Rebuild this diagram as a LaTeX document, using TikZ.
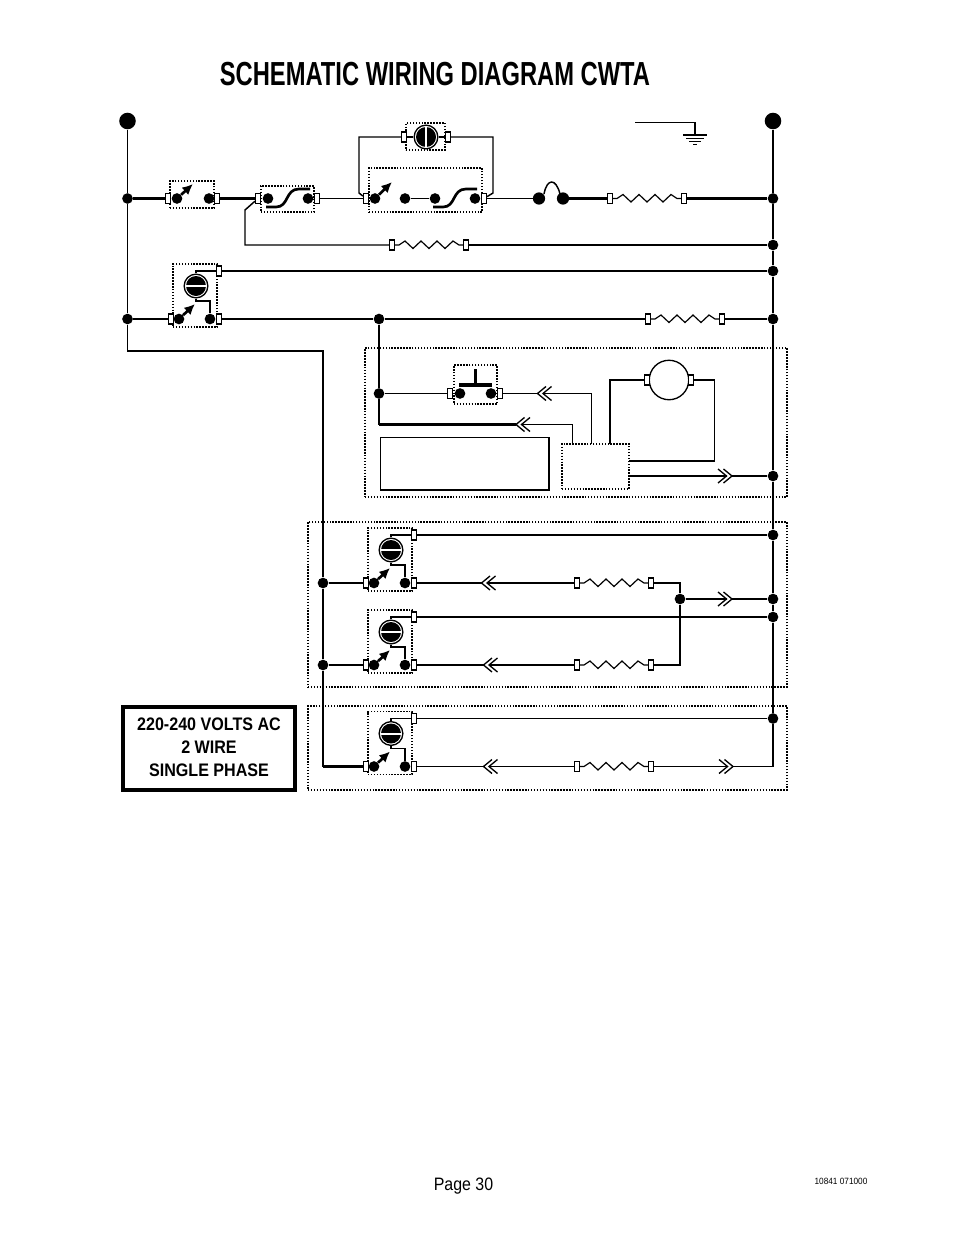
\documentclass[tikz,border=0pt]{standalone}
\usepackage{fontspec}
\setmainfont{Liberation Sans}
\newfontfamily\titlefnt[FakeStretch=0.712]{Liberation Sans}
\newfontfamily\legendfnt[FakeStretch=0.888]{Liberation Sans}
\newfontfamily\pagefnt[FakeStretch=0.885]{Liberation Sans}
\newfontfamily\codefnt[FakeStretch=0.91]{Liberation Sans}
\usetikzlibrary{arrows.meta,fit}
\tikzset{
  wire/.style={line width=1.1pt,line join=miter},
  heavy/.style={line width=1.6pt},
  dot/.style={circle,fill=black,inner sep=0pt,minimum size=8pt},
  bigdot/.style={circle,fill=black,inner sep=0pt,minimum size=12.4pt},
  term/.style={rectangle,draw=black,fill=white,line width=1pt,inner sep=0pt,minimum width=3.6pt,minimum height=7.6pt},
  dotbox/.style={draw=black,line width=.9pt,dash pattern=on 1.1pt off 1.1pt,inner sep=0pt},
  swarm/.style={line width=2pt,-{Latex[length=8pt,width=7.5pt]}},
  bar/.style={line width=2.3pt},
  chev/.style={line width=1pt},
  ring/.style={circle,draw=black,fill=white,line width=1pt,inner sep=0pt,minimum size=17.8pt}
}
% box from corners
\newcommand{\zbox}[5]{\node[dotbox,fit={(#2,#3)(#4,#5)}] (#1) {};}
% resistor between two terminals
\newcommand{\zres}[2]{\draw[wire,line width=.9pt] (#1) -- ++(7,0) -- ++(6,-4) -- ++(8,7.5) -- ++(8,-7.5) -- ++(8,7.5) -- ++(8,-7.5) -- ++(8,7.5) -- ++(8,-7.5) -- ++(6,4) -- (#2);}
% double chevrons
\newcommand{\zchevL}[3]{\coordinate (#1a) at (#2,#3);\coordinate (#1b) at (#2+5.5,#3);
  \draw[chev] (#2+8.5,#3-7) -- (#2,#3) -- (#2+8.5,#3+7);
  \draw[chev] (#2+14,#3-7) -- (#2+5.5,#3) -- (#2+14,#3+7);}
\newcommand{\zchevR}[3]{\coordinate (#1a) at (#2-5.5,#3);\coordinate (#1b) at (#2,#3);
  \draw[chev] (#2-8.5,#3-7) -- (#2,#3) -- (#2-8.5,#3+7);
  \draw[chev] (#2-14,#3-7) -- (#2-5.5,#3) -- (#2-14,#3+7);}
% S-shaped thermal element
\newcommand{\zcurve}[2]{\draw[line width=2pt] (#1,#2+8) -- (#1+10,#2+8) .. controls (#1+23,#2+8) and (#1+19,#2-10) .. (#1+33,#2-10) -- (#1+44,#2-10);}
% thermostat dial
\newcommand{\zdial}[4]{\node[ring] (#1) at (#2,#3) {};
  \fill[black] (#2,#3) circle[radius=7.5pt];
  \ifnum#4=0 \fill[white] (#2-10.5,#3-1) rectangle (#2+10.5,#3+1);
  \else \fill[white] (#2-1,#3-10.5) rectangle (#2+1,#3+10.5);\fi}
% thermostat switch assembly, #1 name, centred on dial
\newcommand{\zstat}[3]{\begin{scope}[shift={(#2,#3)}]
  \zbox{#1box}{-23}{-22}{21}{41}
  \zdial{#1dial}{0}{0}{0}
  \node[term] (#1top) at (23,-15) {};
  \node[term] (#1l) at (-25,33) {};
  \node[term] (#1r) at (23,33) {};
  \node[dot] (#1dl) at (-17,33) {};
  \node[dot] (#1dr) at (14,33) {};
  \coordinate (#1tip) at (-1,18);
  \coordinate (#1up) at (0,-15);
  \coordinate (#1kn) at (14,15);
  \coordinate (#1dn) at (0,15);
  \draw[wire] (#1dial) -- (#1up) -- (#1top);
  \draw[wire] (#1dial) -- (#1dn) -- (#1kn) -- (#1dr);
  \draw[swarm] (#1dl) -- (#1tip);
  \end{scope}}
\begin{document}
\begin{tikzpicture}[x=0.75pt,y=-0.75pt]
\useasboundingbox (0,0) rectangle (954,1235);

\node[anchor=center,font=\titlefnt\bfseries\fontsize{25}{28}\selectfont] (title) at (435,74) {SCHEMATIC WIRING DIAGRAM CWTA};

% rails
\node[bigdot] (bl) at (127.5,121) {};
\node[bigdot] (br) at (773,121) {};
\node[dot] (l198) at (127.5,198.5) {};
\node[dot] (l319) at (127.5,319) {};
\coordinate (lc1) at (127.5,351);
\coordinate (lc2) at (323,351);
\node[dot] (m584) at (323,583) {};
\node[dot] (m665) at (323,665) {};
\coordinate (lc3) at (323,766.5);
\node[dot] (r198) at (773,198.5) {};
\node[dot] (r245) at (773,245) {};
\node[dot] (r271) at (773,271) {};
\node[dot] (r319) at (773,319) {};
\node[dot] (r476) at (773,476) {};
\node[dot] (r535) at (773,535) {};
\node[dot] (r599) at (773,599) {};
\node[dot] (r617) at (773,617) {};
\node[dot] (r718) at (773,718.5) {};
\coordinate (rc) at (773,766.5);
\draw[wire] (bl) -- (l198) -- (l319) -- (lc1) -- (lc2) -- (m584) -- (m665) -- (lc3);
\draw[wire] (br) -- (r198) -- (r245) -- (r271) -- (r319) -- (r476) -- (r535) -- (r599) -- (r617) -- (r718) -- (rc);

% top row
\zbox{b1}{170}{181}{214}{208}
\node[term] (t1) at (168,198.5) {};
\node[dot] (d1) at (177,198.5) {};
\node[dot] (d2) at (209,198.5) {};
\node[term] (t2) at (217,198.5) {};
\coordinate (a1) at (193,184);
\draw[swarm] (d1) -- (a1);
\draw[wire,heavy] (l198) -- (t1);
\zbox{b2}{261}{186}{314}{212}
\node[term] (t3) at (258,198.5) {};
\node[dot] (d3) at (268,198.5) {};
\node[dot] (d4) at (308,198.5) {};
\node[term] (t4) at (317,198.5) {};
\draw[wire,heavy] (t2) -- (t3);
\zcurve{266}{199}
\zbox{b3}{369}{168}{482}{212}
\node[term] (t5) at (366,198.5) {};
\node[dot] (d5) at (375,198.5) {};
\node[dot] (d6) at (405,198.5) {};
\node[dot] (d7) at (435,198.5) {};
\node[dot] (d8) at (475,198.5) {};
\node[term] (t6) at (484,198.5) {};
\coordinate (a2) at (392,182);
\draw[swarm] (d5) -- (a2);
\draw[wire] (d6) -- (d7);
\zcurve{433}{199}
\draw[wire] (t4) -- (t5);

% hi-limit bypass
\zbox{b4}{406}{123}{445}{150}
\zdial{dv}{426}{137}{1}
\node[term] (t7) at (404,137) {};
\node[term] (t8) at (448,137) {};
\draw[wire] (t7) -- (dv);
\draw[wire] (t8) -- (dv);
\coordinate (c1) at (359,137);
\coordinate (c2) at (359,193);
\coordinate (c3) at (493,137);
\coordinate (c4) at (493,193);
\draw[wire] (t7) -- (c1) -- (c2) -- (t5);
\draw[wire] (t8) -- (c3) -- (c4) -- (t6);

% fuse and top resistor
\node[dot,minimum size=9.2pt] (f1) at (539,198.5) {};
\node[dot,minimum size=9.2pt] (f2) at (563,198.5) {};
\draw[wire] (t6) -- (f1);
\draw[wire] (544,194) .. controls (547,178) and (556,178) .. (560,194);
\node[term] (t9) at (610,198.5) {};
\node[term] (t10) at (684,198.5) {};
\draw[wire,heavy] (f2) -- (t9);
\zres{t9}{t10}
\draw[wire,heavy] (t10) -- (r198);

% second resistor row
\node[term] (t11) at (392,245) {};
\node[term] (t12) at (466,245) {};
\coordinate (c5) at (245,210);
\coordinate (c6) at (245,245);
\draw[wire] (t3) -- (c5) -- (c6) -- (t11);
\zres{t11}{t12}
\draw[wire] (t12) -- (r245);

% first thermostat
\zstat{s0}{196}{286}
\draw[wire] (s0top) -- (r271);
\draw[wire] (l319) -- (s0l);
\node[dot] (j379) at (379,319) {};
\node[term] (t13) at (648,319) {};
\node[term] (t14) at (722,319) {};
\draw[wire] (s0r) -- (j379) -- (t13);
\zres{t13}{t14}
\draw[wire] (t14) -- (r319);

% pump / motor block
\zbox{b5}{365}{348}{787}{497}
\zbox{b6}{454}{365}{497}{404}
\node[dot] (j394) at (379,393.5) {};
\node[term] (t15) at (450,393.5) {};
\node[dot] (d9) at (460,393.5) {};
\node[dot] (d10) at (491,393.5) {};
\node[term] (t16) at (500,393.5) {};
\draw[bar] (459,385) -- (492,385);
\draw[bar] (475.5,369) -- (475.5,385);
\coordinate (c7) at (379,424.5);
\draw[wire,heavy] (j379) -- (j394) -- (c7);
\draw[wire] (j394) -- (t15);
\node[draw=black,line width=1pt,fill=white,inner sep=0pt,fit={(380.5,437.5)(549,490)}] (rect1) {};
\node[dotbox,fit={(562,444)(629,489)}] (ctl) {};
\zchevL{k1}{537.5}{393.5}
\zchevL{k2}{516}{424.5}
\zchevR{k3}{732}{476}
\draw[wire] (t16) -- (k1a);
\coordinate (c8) at (591.5,393.5);
\coordinate (c9) at (591.5,444);
\draw[wire] (k1b) -- (c8) -- (c9);
\coordinate (c10) at (572.5,424.5);
\coordinate (c11) at (572.5,444);
\draw[wire,heavy] (c7) -- (k2a);
\draw[wire] (k2b) -- (c10) -- (c11);
\node[circle,draw=black,line width=1pt,fill=white,inner sep=0pt,minimum size=29.6pt] (mot) at (669,380) {};
\node[term] (t17) at (647,380) {};
\node[term] (t18) at (691,380) {};
\coordinate (c12) at (610,444);
\coordinate (c13) at (610,380);
\coordinate (c14) at (714.5,380);
\coordinate (c15) at (714.5,461);
\coordinate (c16) at (629,461);
\draw[wire] (c12) -- (c13) -- (t17);
\draw[wire] (t18) -- (c14) -- (c15) -- (c16);
\coordinate (c17) at (629,476);
\draw[wire] (c17) -- (k3a);
\draw[wire,heavy] (k3b) -- (r476);

% heater block
\zbox{b7}{308}{522}{787}{687}
\zstat{a}{391}{550}
\zstat{b}{391}{632}
\draw[wire] (atop) -- (r535);
\draw[wire,heavy] (btop) -- (r617);
\draw[wire] (m584) -- (al);
\draw[wire] (m665) -- (bl);
\zchevL{k4}{481.5}{583}
\zchevL{k5}{483.5}{665}
\node[term] (t19) at (577,583) {};
\node[term] (t20) at (651,583) {};
\node[term] (t21) at (577,665) {};
\node[term] (t22) at (651,665) {};
\draw[wire,heavy] (ar) -- (k4a);
\draw[wire] (k4b) -- (t19);
\draw[wire] (br) -- (k5a);
\draw[wire] (k5b) -- (t21);
\zres{t19}{t20}
\zres{t21}{t22}
\node[dot] (j680) at (680,599) {};
\coordinate (c18) at (680,583);
\coordinate (c19) at (680,665);
\draw[wire] (t20) -- (c18) -- (j680) -- (c19) -- (t22);
\zchevR{k6}{732}{599}
\draw[wire] (j680) -- (k6a);
\draw[wire] (k6b) -- (r599);

% last block
\zbox{b8}{308}{706}{787}{790}
\zstat{c}{391}{733.5}
\draw[wire] (ctop) -- (r718);
\draw[wire,heavy] (lc3) -- (cl);
\zchevL{k7}{483.5}{766.5}
\zchevR{k8}{733}{766.5}
\node[term] (t23) at (577,766.5) {};
\node[term] (t24) at (651,766.5) {};
\draw[wire] (cr) -- (k7a);
\draw[wire] (k7b) -- (t23);
\zres{t23}{t24}
\draw[wire] (t24) -- (k8a);
\draw[wire] (k8b) -- (rc);

% ground symbol
\coordinate (g0) at (635,122);
\coordinate (g1) at (695,122);
\coordinate (g2) at (695,135);
\draw[wire,line width=.7pt] (g0) -- (g1);
\draw[wire] (g1) -- (g2);
\draw[wire] (683,135) -- (707,135);
\draw[wire,line width=.9pt] (686,138.5) -- (704,138.5);
\draw[wire,line width=.9pt] (689,141.5) -- (701,141.5);
\draw[wire,line width=.9pt] (693,144.5) -- (697,144.5);

% legend
\node[draw=black,line width=2.7pt,fit={(123,707)(295,790)},inner sep=0pt] (leg) {};
\node[align=center,font=\legendfnt\bfseries\fontsize{13.6}{17.2}\selectfont,yshift=.75pt] (legt) at (leg.center) {220-240 VOLTS AC\\2 WIRE\\SINGLE PHASE};

\node[font=\pagefnt\fontsize{13.5}{16}\selectfont] (pg) at (463.5,1186.5) {Page 30};
\node[font=\codefnt\fontsize{6.8}{8}\selectfont] (code) at (841,1181) {10841 071000};
\end{tikzpicture}
\end{document}
